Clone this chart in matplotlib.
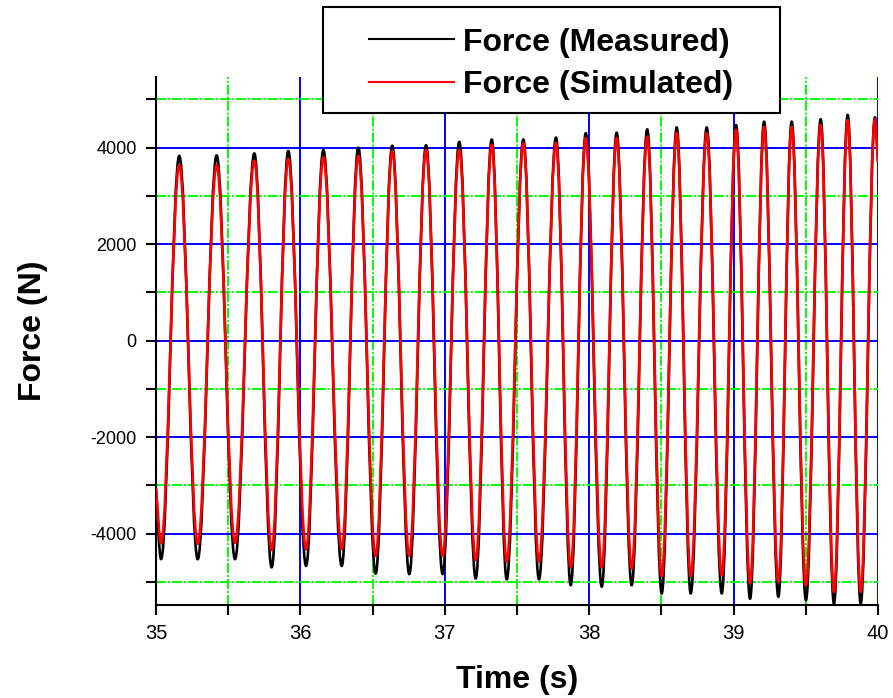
import matplotlib
matplotlib.use("Agg")
import matplotlib.pyplot as plt
from matplotlib.lines import Line2D
from matplotlib.patches import PathPatch, Rectangle
from matplotlib.path import Path
from matplotlib.ticker import MultipleLocator

plt.rcParams["font.family"] = ["Liberation Sans", "DejaVu Sans"]
plt.rcParams["axes.unicode_minus"] = False

# edges of the recorded window (value where the trace meets the axes)
start_t, end_t = 35.0, 40.0
meas_start, meas_end = -3100, 3700
sim_start, sim_end = -3050, 3700

# peak / trough times (s)
peak_t = [35.161, 35.420, 35.681, 35.916, 36.159, 36.401, 36.636, 36.870,
          37.100, 37.325, 37.544, 37.770, 37.976, 38.190, 38.402, 38.606,
          38.814, 39.017, 39.211, 39.402, 39.603, 39.790, 39.979]
trough_t = [35.035, 35.289, 35.547, 35.801, 36.039, 36.286, 36.521, 36.754,
            36.985, 37.214, 37.429, 37.652, 37.872, 38.087, 38.294, 38.502,
            38.703, 38.918, 39.114, 39.310, 39.501, 39.695, 39.880]

# measured force extrema (N)
meas_peaks = [3830, 3840, 3880, 3930, 3950, 4000, 4040, 4050, 4120, 4170,
              4170, 4210, 4300, 4310, 4380, 4420, 4420, 4470, 4540, 4540,
              4590, 4680, 4630]
meas_troughs = [-4530, -4530, -4530, -4700, -4670, -4670, -4830, -4840,
                -4840, -4930, -4950, -4950, -5070, -5100, -5070, -5240,
                -5240, -5240, -5350, -5310, -5380, -5450, -5450]

# simulated force extrema (N)
sim_peaks = [3640, 3640, 3730, 3770, 3800, 3830, 3930, 3950, 3950, 4060,
             4090, 4100, 4200, 4200, 4230, 4310, 4300, 4370, 4430, 4430,
             4470, 4570, 4590]
sim_troughs = [-4200, -4210, -4190, -4340, -4320, -4320, -4460, -4460,
               -4460, -4550, -4580, -4580, -4700, -4700, -4720, -4880,
               -4880, -4860, -5030, -5000, -5070, -5210, -5210]


def trace(t0, v0, peaks, troughs, t1, v1):
    pts = sorted(list(zip(peak_t, peaks)) + list(zip(trough_t, troughs)))
    return [(t0, v0)] + pts + [(t1, v1)]


def smooth_path(pts):
    # cubic segments with flat tangents at every extremum
    k = 0.363
    verts = [pts[0]]
    codes = [Path.MOVETO]
    n = len(pts)
    for i in range(1, n):
        (a, va), (b, vb) = pts[i - 1], pts[i]
        h = k * (b - a)
        if i == 1:
            c1 = (a + (b - a) / 3, va + (vb - va) / 3)
        else:
            c1 = (a + h, va)
        if i == n - 1:
            c2 = (b - (b - a) / 3, vb - (vb - va) / 3)
        else:
            c2 = (b - h, vb)
        verts += [c1, c2, (b, vb)]
        codes += [Path.CURVE4] * 3
    return Path(verts, codes)


fig = plt.figure(figsize=(8.93, 6.98), dpi=100)
ax = fig.add_axes([0.1747, 0.1332, 0.8085, 0.7565])

meas = trace(start_t, meas_start, meas_peaks, meas_troughs, end_t, meas_end)
sim = trace(start_t, sim_start, sim_peaks, sim_troughs, end_t, sim_end)
ax.add_patch(PathPatch(smooth_path(meas), fill=False, edgecolor="black",
                       lw=1.9, joinstyle="round", zorder=2))
ax.add_patch(PathPatch(smooth_path(sim), fill=False, edgecolor="#FF0000",
                       lw=1.9, joinstyle="round", zorder=3))

ax.set_xlim(35, 40)
ax.set_ylim(-5480, 5465)
ax.xaxis.set_major_locator(MultipleLocator(1))
ax.xaxis.set_minor_locator(MultipleLocator(0.5))
ax.yaxis.set_major_locator(MultipleLocator(2000))
ax.yaxis.set_minor_locator(MultipleLocator(1000))

ax.set_axisbelow(True)
ax.grid(which="major", color="#0000FF", lw=1.4, ls="-")
ax.grid(which="minor", color="#00FF00", lw=1.4, ls=(0, (5.2, 1.0, 1.0, 1.0)))

for side in ("top", "right"):
    ax.spines[side].set_visible(False)
for side in ("left", "bottom"):
    ax.spines[side].set_linewidth(1.5)
ax.tick_params(which="both", direction="out", length=7, width=1.5, pad=7)
ax.tick_params(axis="x", labelsize=14.5)
ax.tick_params(axis="y", labelsize=13)

ax.set_xlabel("Time (s)", fontsize=23, fontweight="bold")
ax.set_ylabel("Force (N)", fontsize=23, fontweight="bold")
ax.xaxis.set_label_coords(0.5, -0.113)
ax.yaxis.set_label_coords(-0.149, 0.519)

# legend box sits over the top of the plot area
fig.patches.append(Rectangle((0.3614, 0.8381), 0.5121, 0.1519,
                             transform=fig.transFigure, facecolor="white",
                             edgecolor="black", lw=1.5, zorder=4))
handles = [Line2D([], [], color="black", lw=1.5, label="Force (Measured)"),
           Line2D([], [], color="#FF0000", lw=1.5, label="Force (Simulated)")]
fig.legend(handles=handles, loc="center", bbox_to_anchor=(0.6174, 0.9083),
           frameon=False, prop={"size": 23, "weight": "bold"},
           handlelength=2.65, handletextpad=0.3, labelspacing=0.4,
           borderpad=0.2).set_zorder(5)

fig.savefig("out.png", dpi=100)
